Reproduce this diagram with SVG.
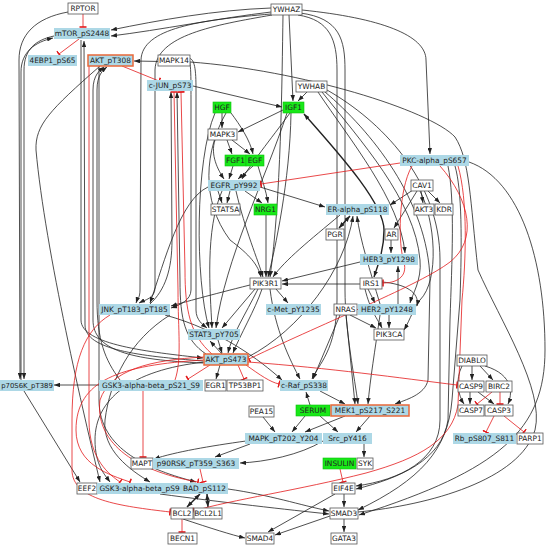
<svg xmlns="http://www.w3.org/2000/svg" width="549" height="547" viewBox="0 0 549 547">
<defs>
<marker id="a" viewBox="0 0 8 6" refX="8" refY="3" markerWidth="6" markerHeight="4.5" markerUnits="userSpaceOnUse" orient="auto"><path d="M0,0L8,3L0,6z" fill="#222"/></marker>
<marker id="as" viewBox="0 0 8 6" refX="8" refY="3" markerWidth="6" markerHeight="4.5" markerUnits="userSpaceOnUse" orient="auto-start-reverse"><path d="M0,0L8,3L0,6z" fill="#222"/></marker>
<marker id="t" viewBox="-1 -4 2 8" refX="0" refY="0" markerWidth="2" markerHeight="8" markerUnits="userSpaceOnUse" orient="auto"><path d="M0,-3.5V3.5" stroke="#e31a1c" stroke-width="1.6"/></marker>
<style>
.b{fill:none;stroke:#222;stroke-width:0.8;marker-end:url(#a)}
.bb{fill:none;stroke:#222;stroke-width:1.4;marker-end:url(#as);marker-start:url(#as)}
.r{fill:none;stroke:#e31a1c;stroke-width:0.8;marker-end:url(#t)}
.nb rect{fill:#add8e6;stroke:none}
.nw rect{fill:#fff;stroke:#555;stroke-width:0.8}
.ng rect{fill:#18e818;stroke:#10c010;stroke-width:0.6}
.no rect{fill:#add8e6;stroke:#e8683a;stroke-width:1.5}
text{font-family:"DejaVu Sans",Verdana,sans-serif;font-size:7.4px;fill:#222;text-anchor:middle}
</style>
</defs>
<rect width="549" height="547" fill="#fff"/>
<g id="edges">
<path class="b" d="M271,8 C215,10 160,20 111,30"/>
<path class="b" d="M271,12 C220,18 160,30 111,36"/>
<path class="b" d="M358,512 C430,505 520,480 535,430 C545,390 500,320 478,270 C470,200 470,160 455,137 C430,110 300,70 190,62 L134,61"/>
<path class="b" d="M271,14 C200,20 142,28 141,60 L140,290 C140,298 137,300 136,303"/>
<path class="b" d="M272,15 C215,25 156,35 155,70 L155,288 C155,298 145,300 139,303"/>
<path class="b" d="M68,12 C35,18 19,35 19,60 L20,379"/>
<path class="b" d="M54,36 C35,40 24,50 24,70 L24,379"/>
<path class="b" d="M21,380 L21,72 C21,52 35,42 53,38"/>
<path class="b" d="M302,10 C380,18 426,35 426,60 L430,154"/>
<path class="b" d="M289,15 L293,101"/>
<path class="b" d="M283,15 C282,80 281,200 270,277"/>
<path class="b" d="M298,15 C330,20 337,40 337,70 L337,300 C337,350 318,365 312,379"/>
<path class="b" d="M300,13 C340,18 345,40 345,70 L345,290 C345,330 355,380 358,404"/>
<path class="b" d="M81,40 L81,320 C81,345 150,352 203,358"/>
<path class="b" d="M203,361 C140,356 85,350 85,325 L84,41"/>
<path class="b" d="M120,380 C105,360 97,340 97,300 L97,90 C97,75 103,70 107,67"/>
<path class="b" d="M203,363 C130,360 93,350 93,320 L93,90 C93,75 100,70 104,67"/>
<path class="b" d="M150,304 C165,290 172,270 172,240 L171,92"/>
<path class="b" d="M206,354 C185,340 180,320 180,280 L177,92"/>
<path class="b" d="M193,86 L282,107"/>
<path class="b" d="M307,92 L298,101"/>
<path class="b" d="M222,113 L222,128"/>
<path class="b" d="M283,110 L238,132"/>
<path class="b" d="M227,140 L232,154"/>
<path class="b" d="M232,140 L250,154"/>
<path class="b" d="M231,113 C240,125 250,140 253,154"/>
<path class="b" d="M233,166 L229,179"/>
<path class="b" d="M253,166 L238,179"/>
<path class="b" d="M215,140 C210,155 218,170 224,179"/>
<path class="b" d="M290,113 C270,140 250,165 242,179"/>
<path class="b" d="M230,191 L227,203"/>
<path class="b" d="M218,191 L222,203"/>
<path class="b" d="M245,191 L262,203"/>
<path class="b" d="M258,166 C262,180 266,190 268,203"/>
<path class="b" d="M260,187 L325,207"/>
<path class="bb" d="M304,114 C345,160 384,205 384,230 C384,250 378,265 374,277"/>
<path class="b" d="M318,92 C350,140 400,200 405,253"/>
<path class="b" d="M322,92 C360,140 415,200 420,260 C422,280 412,295 410,303"/>
<path class="b" d="M325,92 C370,130 428,200 430,280 L428,380 C425,395 405,400 395,404"/>
<path class="b" d="M327,90 C380,120 440,180 440,260 L440,420 C440,460 400,480 356,486"/>
<path class="b" d="M421,191 L423,203"/>
<path class="b" d="M428,191 L440,203"/>
<path class="b" d="M413,190 L390,205"/>
<path class="b" d="M417,191 L394,228"/>
<path class="b" d="M420,191 C435,220 440,280 420,300 C415,305 410,320 404,330"/>
<path class="b" d="M391,240 L391,253"/>
<path class="b" d="M398,304 L398,266"/>
<path class="b" d="M368,289 L375,303"/>
<path class="b" d="M382,282 C405,284 420,292 417,306"/>
<path class="b" d="M365,289 C370,310 378,320 382,328"/>
<path class="b" d="M389,315 L389,328"/>
<path class="b" d="M350,315 L376,328"/>
<path class="b" d="M360,284 L282,284"/>
<path class="b" d="M360,262 L282,281"/>
<path class="bb" d="M350,216 L339,228"/>
<path class="b" d="M380,304 C370,270 360,240 357,216"/>
<path class="b" d="M248,357 C300,330 345,270 353,216"/>
<path class="b" d="M236,191 C245,230 258,260 263,277"/>
<path class="b" d="M266,215 L266,277"/>
<path class="b" d="M291,113 C290,180 275,250 268,277"/>
<path class="b" d="M226,113 C205,150 200,200 230,240 C250,255 258,265 261,277"/>
<path class="b" d="M340,215 C310,240 285,260 273,277"/>
<path class="b" d="M276,289 L288,303"/>
<path class="b" d="M255,289 L222,328"/>
<path class="b" d="M262,289 C255,310 240,335 233,353"/>
<path class="b" d="M258,289 C245,315 232,335 228,353"/>
<path class="b" d="M250,285 C210,295 185,302 171,306"/>
<path class="b" d="M222,191 C205,230 210,290 212,328"/>
<path class="b" d="M287,113 C265,180 225,260 216,328"/>
<path class="b" d="M215,113 C195,160 195,280 209,328"/>
<path class="b" d="M188,58 C195,58 196,70 196,90 L196,310 C196,320 203,325 207,328"/>
<path class="b" d="M186,56 C191,56 191,70 191,100 L191,290 C191,300 180,305 171,308"/>
<path class="b" d="M208,187 C180,200 165,260 150,303"/>
<path class="b" d="M218,340 L222,353"/>
<path class="b" d="M222,354 L210,341"/>
<path class="b" d="M220,365 L216,379"/>
<path class="b" d="M99,385 L54,385"/>
<path class="b" d="M24,391 L80,482"/>
<path class="b" d="M100,66 C50,110 35,125 36,150 C45,250 85,420 100,482"/>
<path class="b" d="M99,66 L99,400 C99,450 150,470 196,482"/>
<path class="b" d="M205,362 C130,370 95,400 95,440 C95,465 105,475 110,482"/>
<path class="b" d="M170,315 C130,340 110,380 105,420 C102,450 130,470 150,482"/>
<path class="b" d="M165,315 C220,330 260,360 282,380"/>
<path class="b" d="M270,289 C275,330 290,360 300,379"/>
<path class="b" d="M340,315 L313,379"/>
<path class="b" d="M320,391 L345,404"/>
<path class="b" d="M310,405 L306,392"/>
<path class="b" d="M346,315 L355,404"/>
<path class="b" d="M380,315 C375,350 370,380 368,404"/>
<path class="b" d="M263,417 L275,432"/>
<path class="b" d="M305,416 L292,432"/>
<path class="b" d="M320,416 L338,432"/>
<path class="b" d="M345,416 L305,432"/>
<path class="b" d="M370,416 L356,432"/>
<path class="b" d="M250,444 L215,457"/>
<path class="b" d="M323,441 C300,455 265,462 240,463"/>
<path class="b" d="M246,441 C210,446 175,452 154,459"/>
<path class="b" d="M364,444 L364,457"/>
<path class="b" d="M344,494 L344,507"/>
<path class="b" d="M335,494 L268,532"/>
<path class="b" d="M344,519 L344,532"/>
<path class="b" d="M330,516 L275,535"/>
<path class="b" d="M228,489 C270,495 300,505 329,511"/>
<path class="b" d="M160,494 C220,502 290,510 329,514"/>
<path class="b" d="M183,519 C210,528 232,535 245,538"/>
<path class="bb" d="M200,494 L187,507"/>
<path class="bb" d="M207,494 L208,507"/>
<path class="b" d="M472,366 L472,380"/>
<path class="b" d="M462,366 C455,380 458,395 464,404"/>
<path class="b" d="M485,366 C515,375 512,395 508,404"/>
<path class="b" d="M480,366 L493,380"/>
<path class="b" d="M470,392 L470,404"/>
<path class="b" d="M478,392 L494,404"/>
<path class="b" d="M455,166 C462,190 462,240 460,300 L452,400 C448,450 420,480 358,510"/>
<path class="b" d="M448,166 C455,200 452,260 450,320 L448,420 C442,460 400,478 356,489"/>
<path class="b" d="M469,162 C520,180 545,260 545,350 C545,430 500,470 359,515"/>
<path class="r" d="M83,14 L83,27"/>
<path class="r" d="M79,39 L59,54"/>
<path class="r" d="M122,66 L159,81"/>
<path class="r" d="M400,163 L261,184"/>
<path class="r" d="M412,166 C398,190 398,245 404,262 C408,278 395,283 383,283"/>
<path class="r" d="M440,166 C470,200 478,240 450,262 C420,285 330,320 249,359"/>
<path class="r" d="M458,166 C468,200 466,260 462,300 L458,405 C452,440 420,458 366,473 C300,490 230,500 194,511"/>
<path class="r" d="M248,362 C330,368 400,378 457,385"/>
<path class="r" d="M246,365 C260,375 270,382 279,384"/>
<path class="r" d="M238,365 L244,379"/>
<path class="r" d="M210,365 L188,379"/>
<path class="r" d="M175,380 C182,360 178,330 178,290 L174,92"/>
<path class="r" d="M212,354 C190,335 185,310 185,270 L181,92"/>
<path class="r" d="M89,66 L89,420 C89,460 110,475 120,482"/>
<path class="r" d="M204,360 C120,365 76,380 76,430 C76,465 110,475 130,482"/>
<path class="r" d="M204,357 C150,360 110,370 100,400 C95,440 130,470 198,482"/>
<path class="r" d="M110,315 C85,330 72,360 72,420 L72,470 C72,500 120,506 170,512"/>
<path class="r" d="M143,391 L143,457"/>
<path class="r" d="M200,469 L203,482"/>
<path class="r" d="M340,469 L343,482"/>
<path class="r" d="M182,519 L182,532"/>
<path class="r" d="M492,392 L477,404"/>
<path class="r" d="M500,392 L500,404"/>
<path class="r" d="M494,416 L486,432"/>
<path class="r" d="M504,416 L524,432"/>
</g>
<g id="RPTOR" class="nw"><rect x="68" y="3" width="30" height="11"/><text x="83" y="11.2">RPTOR</text></g>
<g id="YWHAZ" class="nw"><rect x="271" y="4" width="31" height="11"/><text x="286.5" y="12.2">YWHAZ</text></g>
<g id="mTOR_pS2448" class="nb"><rect x="54" y="28" width="56" height="11"/><text x="82" y="36.2">mTOR_pS2448</text></g>
<g id="4EBP1_pS65" class="nb"><rect x="28" y="55" width="49" height="11"/><text x="52.5" y="63.2">4EBP1_pS65</text></g>
<g id="AKT_pT308" class="no"><rect x="88" y="55" width="45" height="11"/><text x="110.5" y="63.2">AKT_pT308</text></g>
<g id="MAPK14" class="nw"><rect x="158" y="55" width="32" height="11"/><text x="174" y="63.2">MAPK14</text></g>
<g id="c-JUN_pS73" class="nb"><rect x="147" y="80" width="46" height="11"/><text x="170" y="88.2">c-JUN_pS73</text></g>
<g id="YWHAB" class="nw"><rect x="296" y="81" width="31" height="11"/><text x="311.5" y="89.2">YWHAB</text></g>
<g id="HGF" class="ng"><rect x="213" y="102" width="18" height="11"/><text x="222" y="110.2">HGF</text></g>
<g id="IGF1" class="ng"><rect x="283" y="102" width="21" height="11"/><text x="293.5" y="110.2">IGF1</text></g>
<g id="MAPK3" class="nw"><rect x="208" y="129" width="29" height="11"/><text x="222.5" y="137.2">MAPK3</text></g>
<g id="FGF1" class="ng"><rect x="225" y="155" width="21" height="11"/><text x="235.5" y="163.2">FGF1</text></g>
<g id="EGF" class="ng"><rect x="246" y="155" width="18" height="11"/><text x="255" y="163.2">EGF</text></g>
<g id="EGFR_pY992" class="nb"><rect x="208" y="180" width="52" height="11"/><text x="234" y="188.2">EGFR_pY992</text></g>
<g id="STAT5A" class="nw"><rect x="211" y="204" width="29" height="11"/><text x="225.5" y="212.2">STAT5A</text></g>
<g id="NRG1" class="ng"><rect x="254" y="204" width="23" height="11"/><text x="265.5" y="212.2">NRG1</text></g>
<g id="PKC-alpha_pS657" class="nb"><rect x="400" y="155" width="69" height="11"/><text x="434.5" y="163.2">PKC-alpha_pS657</text></g>
<g id="CAV1" class="nw"><rect x="411" y="180" width="22" height="11"/><text x="422" y="188.2">CAV1</text></g>
<g id="AKT3" class="nw"><rect x="414" y="204" width="20" height="11"/><text x="424" y="212.2">AKT3</text></g>
<g id="KDR" class="nw"><rect x="435" y="204" width="18" height="11"/><text x="444" y="212.2">KDR</text></g>
<g id="ER-alpha_pS118" class="nb"><rect x="326" y="204" width="63" height="11"/><text x="357.5" y="212.2">ER-alpha_pS118</text></g>
<g id="PGR" class="nw"><rect x="326" y="229" width="18" height="11"/><text x="335" y="237.2">PGR</text></g>
<g id="AR" class="nw"><rect x="385" y="229" width="13" height="11"/><text x="391.5" y="237.2">AR</text></g>
<g id="HER3_pY1298" class="nb"><rect x="360" y="254" width="58" height="11"/><text x="389" y="262.2">HER3_pY1298</text></g>
<g id="PIK3R1" class="nw"><rect x="250" y="278" width="31" height="11"/><text x="265.5" y="286.2">PIK3R1</text></g>
<g id="IRS1" class="nw"><rect x="360" y="278" width="22" height="11"/><text x="371" y="286.2">IRS1</text></g>
<g id="JNK_pT183_pT185" class="nb"><rect x="99" y="304" width="71" height="11"/><text x="134.5" y="312.2">JNK_pT183_pT185</text></g>
<g id="c-Met_pY1235" class="nb"><rect x="266" y="304" width="55" height="11"/><text x="293.5" y="312.2">c-Met_pY1235</text></g>
<g id="NRAS" class="nw"><rect x="334" y="304" width="23" height="11"/><text x="345.5" y="312.2">NRAS</text></g>
<g id="HER2_pY1248" class="nb"><rect x="358" y="304" width="58" height="11"/><text x="387" y="312.2">HER2_pY1248</text></g>
<g id="PIK3CA" class="nw"><rect x="374" y="329" width="30" height="11"/><text x="389" y="337.2">PIK3CA</text></g>
<g id="STAT3_pY705" class="nb"><rect x="188" y="329" width="52" height="11"/><text x="214" y="337.2">STAT3_pY705</text></g>
<g id="AKT_pS473" class="no"><rect x="204" y="354" width="44" height="11"/><text x="226" y="362.2">AKT_pS473</text></g>
<g id="DIABLO" class="nw"><rect x="457" y="355" width="30" height="11"/><text x="472" y="363.2">DIABLO</text></g>
<g id="p70S6K_pT389" class="nb"><rect x="0" y="380" width="54" height="11"/><text x="27" y="388.2" style="font-size:6.9px">p70S6K_pT389</text></g>
<g id="GSK3-alpha-beta_pS21_S9" class="nb"><rect x="99" y="380" width="104" height="11"/><text x="151" y="388.2">GSK3-alpha-beta_pS21_S9</text></g>
<g id="EGR1" class="nw"><rect x="205" y="380" width="21" height="11"/><text x="215.5" y="388.2">EGR1</text></g>
<g id="TP53BP1" class="nw"><rect x="227" y="380" width="36" height="11"/><text x="245" y="388.2">TP53BP1</text></g>
<g id="c-Raf_pS338" class="nb"><rect x="280" y="380" width="48" height="11"/><text x="304" y="388.2">c-Raf_pS338</text></g>
<g id="CASP9" class="nw"><rect x="458" y="381" width="26" height="11"/><text x="471" y="389.2">CASP9</text></g>
<g id="BIRC2" class="nw"><rect x="486" y="381" width="26" height="11"/><text x="499" y="389.2">BIRC2</text></g>
<g id="PEA15" class="nw"><rect x="249" y="406" width="25" height="11"/><text x="261.5" y="414.2">PEA15</text></g>
<g id="SERUM" class="ng"><rect x="296" y="405" width="34" height="11"/><text x="313" y="413.2">SERUM</text></g>
<g id="MEK1_pS217_S221" class="no"><rect x="331" y="405" width="78" height="11"/><text x="370" y="413.2">MEK1_pS217_S221</text></g>
<g id="CASP7" class="nw"><rect x="458" y="405" width="26" height="11"/><text x="471" y="413.2">CASP7</text></g>
<g id="CASP3" class="nw"><rect x="485" y="405" width="28" height="11"/><text x="499" y="413.2">CASP3</text></g>
<g id="MAPK_pT202_Y204" class="nb"><rect x="245" y="433" width="77" height="11"/><text x="283.5" y="441.2">MAPK_pT202_Y204</text></g>
<g id="Src_pY416" class="nb"><rect x="323" y="433" width="49" height="11"/><text x="347.5" y="441.2">Src_pY416</text></g>
<g id="Rb_pS807_S811" class="nb"><rect x="453" y="433" width="63" height="11"/><text x="484.5" y="441.2">Rb_pS807_S811</text></g>
<g id="PARP1" class="nw"><rect x="517" y="433" width="26" height="11"/><text x="530" y="441.2">PARP1</text></g>
<g id="MAPT" class="nw"><rect x="131" y="458" width="22" height="11"/><text x="142" y="466.2">MAPT</text></g>
<g id="p90RSK_pT359_S363" class="nb"><rect x="153" y="458" width="86" height="11"/><text x="196" y="466.2">p90RSK_pT359_S363</text></g>
<g id="INSULIN" class="ng"><rect x="323" y="458" width="33" height="11"/><text x="339.5" y="466.2">INSULIN</text></g>
<g id="SYK" class="nw"><rect x="357" y="458" width="16" height="11"/><text x="365" y="466.2">SYK</text></g>
<g id="EEF2" class="nw"><rect x="77" y="483" width="20" height="11"/><text x="87" y="491.2">EEF2</text></g>
<g id="GSK3-alpha-beta_pS9" class="nb"><rect x="97" y="483" width="85" height="11"/><text x="139.5" y="491.2">GSK3-alpha-beta_pS9</text></g>
<g id="BAD_pS112" class="nb"><rect x="181" y="483" width="47" height="11"/><text x="204.5" y="491.2">BAD_pS112</text></g>
<g id="EIF4E" class="nw"><rect x="332" y="483" width="23" height="11"/><text x="343.5" y="491.2">EIF4E</text></g>
<g id="BCL2" class="nw"><rect x="171" y="508" width="22" height="11"/><text x="182" y="516.2">BCL2</text></g>
<g id="BCL2L1" class="nw"><rect x="194" y="508" width="28" height="11"/><text x="208" y="516.2">BCL2L1</text></g>
<g id="SMAD3" class="nw"><rect x="330" y="508" width="28" height="11"/><text x="344" y="516.2">SMAD3</text></g>
<g id="BECN1" class="nw"><rect x="168" y="533" width="29" height="11"/><text x="182.5" y="541.2">BECN1</text></g>
<g id="SMAD4" class="nw"><rect x="246" y="533" width="28" height="11"/><text x="260" y="541.2">SMAD4</text></g>
<g id="GATA3" class="nw"><rect x="331" y="533" width="26" height="11"/><text x="344" y="541.2">GATA3</text></g>
</svg>
